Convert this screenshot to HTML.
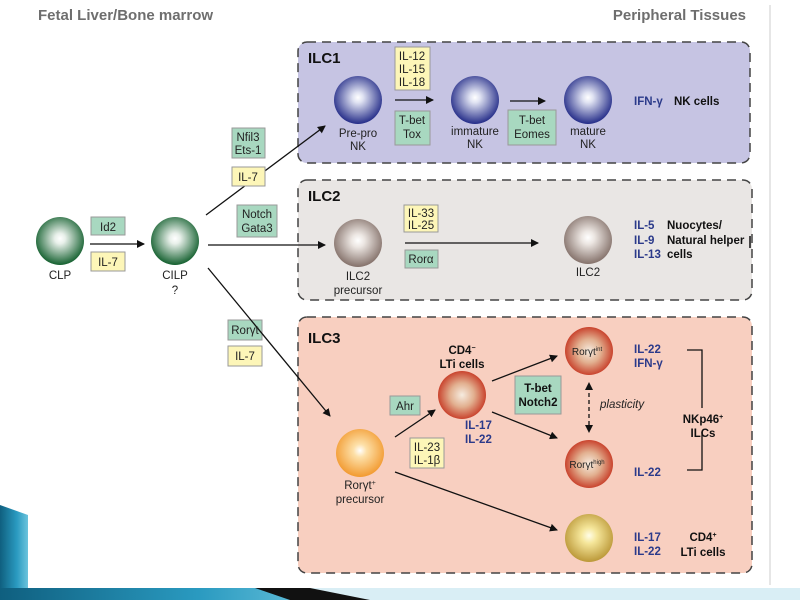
<!DOCTYPE html>
<html><head><meta charset="utf-8"><style>
html,body{margin:0;padding:0;background:#fff;}
svg{display:block;font-family:"Liberation Sans",Arial,sans-serif;}
</style></head><body>
<svg width="800" height="600" viewBox="0 0 800 600" xmlns="http://www.w3.org/2000/svg">
<defs>
<radialGradient id="g" cx="50%" cy="45%" r="55%"><stop offset="0" stop-color="#fff"/><stop offset="0.2" stop-color="#e8f0ea"/><stop offset="1" stop-color="#14602f"/></radialGradient>
<radialGradient id="b" cx="50%" cy="45%" r="55%"><stop offset="0" stop-color="#fff"/><stop offset="0.2" stop-color="#dfe2f2"/><stop offset="1" stop-color="#242c88"/></radialGradient>
<radialGradient id="br" cx="50%" cy="45%" r="55%"><stop offset="0" stop-color="#fff"/><stop offset="0.25" stop-color="#ece6e2"/><stop offset="1" stop-color="#84716a"/></radialGradient>
<radialGradient id="o" cx="50%" cy="45%" r="55%"><stop offset="0" stop-color="#fff"/><stop offset="0.25" stop-color="#fde0a8"/><stop offset="1" stop-color="#f29a30"/></radialGradient>
<radialGradient id="r" cx="50%" cy="50%" r="55%"><stop offset="0" stop-color="#f6ece0"/><stop offset="0.45" stop-color="#e2b090"/><stop offset="1" stop-color="#c42e1a"/></radialGradient>
<radialGradient id="y" cx="50%" cy="45%" r="55%"><stop offset="0" stop-color="#fffde8"/><stop offset="0.3" stop-color="#f5e69a"/><stop offset="1" stop-color="#bb9838"/></radialGradient>
<linearGradient id="teal" x1="0" y1="0" x2="1" y2="0"><stop offset="0" stop-color="#0f5f7f"/><stop offset="0.6" stop-color="#2a9ac0"/><stop offset="1" stop-color="#6cc4dd"/></linearGradient>
<marker id="ar" markerWidth="8" markerHeight="8" refX="7" refY="4" orient="auto" markerUnits="userSpaceOnUse"><path d="M0,0 L8,4 L0,8 z" fill="#111"/></marker>
<marker id="ar2" markerWidth="8" markerHeight="8" refX="4" refY="4" orient="auto-start-reverse" markerUnits="userSpaceOnUse"><path d="M0,0 L8,4 L0,8 z" fill="#111"/></marker>
</defs>

<polygon points="0,505 28,515 28,600 0,600" fill="url(#teal)"/>
<rect x="0" y="588" width="800" height="12" fill="#d9eef5"/>
<polygon points="0,588 260,588 330,600 0,600" fill="url(#teal)"/>
<polygon points="255,588 310,588 370,600 290,600" fill="#111"/>
<line x1="770" y1="5" x2="770" y2="585" stroke="#ddd" stroke-width="1.5"/>

<text x="38" y="20" font-size="15" font-weight="bold" fill="#6e6e6e">Fetal Liver/Bone marrow</text>
<text x="746" y="20" font-size="15" font-weight="bold" fill="#6e6e6e" text-anchor="end">Peripheral Tissues</text>

<rect x="298" y="42" width="452" height="121" rx="9" fill="#c6c4e3" stroke="#444" stroke-width="1.5" stroke-dasharray="9,6"/>
<rect x="298" y="180" width="454" height="120" rx="9" fill="#e9e6e4" stroke="#444" stroke-width="1.5" stroke-dasharray="9,6"/>
<rect x="298" y="317" width="454" height="256" rx="9" fill="#f8cfc0" stroke="#444" stroke-width="1.5" stroke-dasharray="9,6"/>
<g font-size="15" font-weight="bold" fill="#111">
<text x="308" y="63">ILC1</text><text x="308" y="201">ILC2</text><text x="308" y="343">ILC3</text></g>

<g stroke="#111" stroke-width="1.3" fill="none">
<line x1="90" y1="244" x2="144" y2="244" marker-end="url(#ar)"/>
<line x1="206" y1="215" x2="325" y2="126" marker-end="url(#ar)"/>
<line x1="208" y1="245" x2="325" y2="245" marker-end="url(#ar)"/>
<line x1="395" y1="100" x2="433" y2="100" marker-end="url(#ar)"/>
<line x1="510" y1="101" x2="545" y2="101" marker-end="url(#ar)"/>
<line x1="405" y1="243" x2="538" y2="243" marker-end="url(#ar)"/>
<line x1="395" y1="437" x2="435" y2="410" marker-end="url(#ar)"/>
<line x1="492" y1="381" x2="557" y2="356" marker-end="url(#ar)"/>
<line x1="492" y1="412" x2="557" y2="438" marker-end="url(#ar)"/>
<line x1="395" y1="472" x2="557" y2="530" marker-end="url(#ar)"/>
<line x1="589" y1="386" x2="589" y2="429" stroke-dasharray="4,3" marker-start="url(#ar2)" marker-end="url(#ar2)"/>
<polyline points="687,350 702,350 702,408"/><polyline points="702,432 702,470 687,470"/>
</g>

<circle cx="60" cy="241" r="24" fill="url(#g)"/>
<circle cx="175" cy="241" r="24" fill="url(#g)"/>
<circle cx="358" cy="100" r="24" fill="url(#b)"/>
<circle cx="475" cy="100" r="24" fill="url(#b)"/>
<circle cx="588" cy="100" r="24" fill="url(#b)"/>
<circle cx="358" cy="243" r="24" fill="url(#br)"/>
<circle cx="588" cy="240" r="24" fill="url(#br)"/>
<circle cx="360" cy="453" r="24" fill="url(#o)"/>
<circle cx="462" cy="395" r="24" fill="url(#r)"/>
<circle cx="589" cy="351" r="24" fill="url(#r)"/>
<circle cx="589" cy="464" r="24" fill="url(#r)"/>
<circle cx="589" cy="538" r="24" fill="url(#y)"/>

<g stroke="#999" stroke-width="1">
<rect x="91" y="217" width="34" height="18" fill="#a8d8c0"/>
<rect x="91" y="252" width="34" height="19" fill="#fdf6b8"/>
<rect x="232" y="128" width="33" height="30" fill="#a8d8c0"/>
<rect x="232" y="167" width="33" height="19" fill="#fdf6b8"/>
<rect x="237" y="205" width="40" height="32" fill="#a8d8c0"/>
<rect x="228" y="320" width="34" height="20" fill="#a8d8c0"/>
<rect x="228" y="346" width="34" height="20" fill="#fdf6b8"/>
<rect x="395" y="47" width="35" height="43" fill="#fdf6b8"/>
<rect x="395" y="111" width="35" height="34" fill="#a8d8c0"/>
<rect x="508" y="110" width="48" height="35" fill="#a8d8c0"/>
<rect x="404" y="205" width="34" height="27" fill="#fdf6b8"/>
<rect x="405" y="250" width="33" height="18" fill="#a8d8c0"/>
<rect x="390" y="396" width="30" height="19" fill="#a8d8c0"/>
<rect x="410" y="438" width="34" height="30" fill="#fdf6b8"/>
<rect x="515" y="376" width="46" height="38" fill="#a8d8c0"/>
</g>
<line x1="208" y1="268" x2="330" y2="416" stroke="#111" stroke-width="1.3" marker-end="url(#ar)"/>

<g font-size="11.5" fill="#222" text-anchor="middle">
<text x="108" y="231">Id2</text><text x="108" y="266">IL-7</text>
<text x="248" y="141">Nfil3</text><text x="248" y="154">Ets-1</text><text x="248" y="181">IL-7</text>
<text x="257" y="218">Notch</text><text x="257" y="232">Gata3</text>
<text x="245" y="334">Rorγt</text><text x="245" y="360">IL-7</text>
<text x="412" y="60">IL-12</text><text x="412" y="73">IL-15</text><text x="412" y="86">IL-18</text>
<text x="412" y="124">T-bet</text><text x="412" y="138">Tox</text>
<text x="532" y="124">T-bet</text><text x="532" y="138">Eomes</text>
<text x="421" y="217">IL-33</text><text x="421" y="229">IL-25</text>
<text x="421" y="263">Rorα</text>
<text x="405" y="410">Ahr</text>
<text x="427" y="451">IL-23</text><text x="427" y="464">IL-1β</text>
<text x="60" y="279">CLP</text><text x="175" y="279">CILP</text><text x="175" y="294">?</text>
<text x="358" y="137">Pre-pro</text><text x="358" y="150">NK</text>
<text x="475" y="135">immature</text><text x="475" y="148">NK</text>
<text x="588" y="135">mature</text><text x="588" y="148">NK</text>
<text x="358" y="280">ILC2</text><text x="358" y="294">precursor</text>
<text x="588" y="276">ILC2</text>
<text x="360" y="489">Rorγt<tspan font-size="7" dy="-4">+</tspan></text><text x="360" y="503">precursor</text>
<text x="587" y="355" font-size="10">Rorγt<tspan font-size="6" dy="-4">int</tspan></text>
<text x="587" y="468" font-size="10">Rorγt<tspan font-size="6" dy="-4">high</tspan></text>
</g>
<g font-size="11.5" font-weight="bold" fill="#111" text-anchor="middle">
<text x="538" y="392">T-bet</text><text x="538" y="406">Notch2</text>
<text x="462" y="354">CD4<tspan font-size="7" dy="-4">−</tspan></text><text x="462" y="368">LTi cells</text>
<text x="703" y="423">NKp46<tspan font-size="7" dy="-4">+</tspan></text><text x="703" y="437">ILCs</text>
<text x="703" y="541">CD4<tspan font-size="7" dy="-4">+</tspan></text><text x="703" y="556">LTi cells</text>
</g>
<text x="600" y="408" font-size="11.5" font-style="italic" fill="#222">plasticity</text>
<g font-size="11.5" font-weight="bold" fill="#2b3a8a">
<text x="634" y="105">IFN-γ</text>
<text x="634" y="229">IL-5</text><text x="634" y="244">IL-9</text><text x="634" y="258">IL-13</text>
<text x="465" y="429">IL-17</text><text x="465" y="443">IL-22</text>
<text x="634" y="353">IL-22</text><text x="634" y="367">IFN-γ</text>
<text x="634" y="476">IL-22</text>
<text x="634" y="541">IL-17</text><text x="634" y="555">IL-22</text>
</g>
<g font-size="11.5" font-weight="bold" fill="#111">
<text x="674" y="105">NK cells</text>
<text x="667" y="229">Nuocytes/</text><text x="667" y="244">Natural helper</text><text x="667" y="258">cells</text>
</g>
<line x1="750" y1="236" x2="750" y2="248" stroke="#111" stroke-width="1.5"/>
</svg>
</body></html>
